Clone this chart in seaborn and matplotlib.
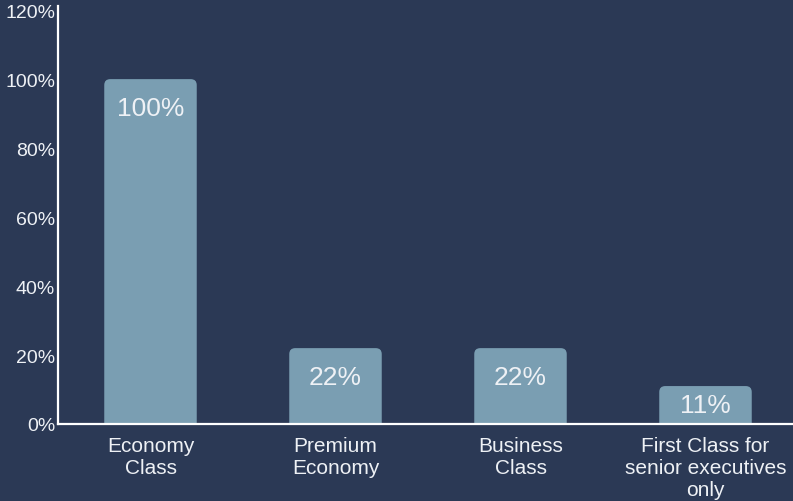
import matplotlib
matplotlib.use("Agg")
import matplotlib.pyplot as plt
from matplotlib.patches import FancyBboxPatch
from matplotlib.ticker import FuncFormatter
import seaborn as sns
import pandas as pd

# Share of travel by cabin class
categories = ["Economy\nClass", "Premium\nEconomy", "Business\nClass",
              "First Class for\nsenior executives\nonly"]
shares = [100, 22, 22, 11]
y_ticks = [0, 20, 40, 60, 80, 100, 120]

BG = "#2b3955"
BAR = "#7a9eb2"
FG = "#eef1f5"

sns.set_theme(style="white")
plt.rcParams["font.family"] = ["Liberation Sans", "DejaVu Sans"]

df = pd.DataFrame({"cabin": categories, "share": shares})

W, H = 793, 502
fig = plt.figure(figsize=(W / 100, H / 100), dpi=100, facecolor=BG)
ax = fig.add_axes([58 / W, 77 / H, 740 / W, 418 / H])
ax.set_facecolor(BG)

sns.barplot(data=df, x="cabin", y="share", color=BAR, width=0.5,
            saturation=1, ax=ax)

ax.set_xlim(-0.5, 3.5)
ax.set_ylim(0, 121.2)

# Swap plain rectangles for ones with softly rounded top corners
fig.canvas.draw()
bbox = ax.get_window_extent()
px_x = bbox.width / (3.5 + 0.5)
px_y = bbox.height / 121.2
radius_px = 6
for p in list(ax.patches):
    x0, w, h = p.get_x(), p.get_width(), p.get_height()
    r = radius_px / px_x
    below = 3.0
    rounded = FancyBboxPatch((x0, -below), w, h + below,
                             boxstyle=f"round,pad=0,rounding_size={r}",
                             mutation_aspect=px_x / px_y,
                             facecolor=BAR, edgecolor="none", zorder=2)
    p.remove()
    ax.add_patch(rounded)

# Value labels inside each bar
for i, v in enumerate(shares):
    ax.text(i, max(v - 8.5, v / 2), f"{v}%", ha="center", va="center",
            color=FG, fontsize=19)

ax.set_yticks(y_ticks)
ax.yaxis.set_major_formatter(FuncFormatter(lambda v, _: f"{int(v)}%"))
ax.set_xlabel("")
ax.set_ylabel("")
ax.tick_params(axis="both", length=0, colors=FG)
ax.tick_params(axis="x", pad=9, labelsize=15)
ax.tick_params(axis="y", pad=2, labelsize=14)
for lbl in ax.get_xticklabels():
    lbl.set_linespacing(1.18)

for side in ["top", "right"]:
    ax.spines[side].set_visible(False)
for side in ["left", "bottom"]:
    ax.spines[side].set_color("white")
    ax.spines[side].set_linewidth(1.6)
    ax.spines[side].set_zorder(5)

fig.savefig("out.png", dpi=100, facecolor=BG)
